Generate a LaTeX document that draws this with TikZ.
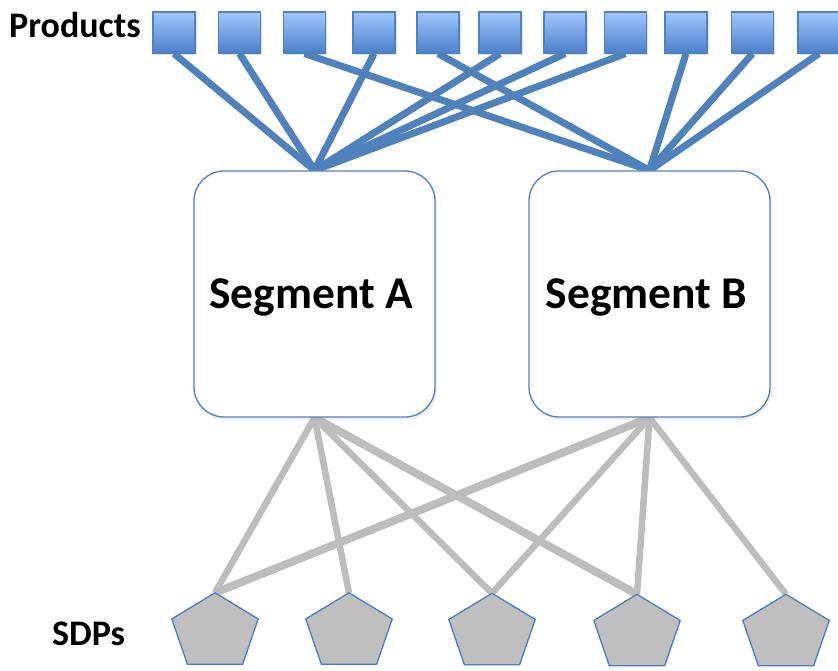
\documentclass[tikz,border=0pt]{standalone}
\usepackage{fontspec}
\setmainfont{Carlito}
\usetikzlibrary{calc,shadows}
\definecolor{linkblue}{HTML}{4F81BD}
\definecolor{sqtop}{HTML}{A3C7FF}
\definecolor{sqbot}{HTML}{4A7FCB}
\definecolor{linkgray}{HTML}{BDBDBD}
\definecolor{pentfill}{HTML}{BFBFBF}
\definecolor{pentedge}{HTML}{4A7EC4}
\pgfdeclarelayer{back}
\pgfsetlayers{back,main}
\tikzset{
  prod/.style={minimum width=42pt, minimum height=41pt, inner sep=0pt,
    draw=linkblue, line width=1.2pt, top color=sqtop, bottom color=sqbot,
    drop shadow={opacity=0.25, shadow xshift=1.5pt, shadow yshift=-2pt}},
  seg/.style={minimum width=241pt, minimum height=246pt, inner sep=0pt,
    rounded corners=30pt, draw=linkblue, line width=1.3pt, fill=white,
    drop shadow={opacity=0.12, shadow xshift=2pt, shadow yshift=-3pt}},
  seglabel/.style={anchor=base, inner sep=0pt, font=\bfseries\fontsize{45.5}{50}\selectfont},
  caption/.style={anchor=base west, inner sep=0pt, font=\bfseries\fontsize{36}{40}\selectfont},
  pentbox/.style={minimum width=86pt, minimum height=71pt, inner sep=0pt},
  pentshape/.style={fill=pentfill, draw=pentedge, line width=1.3pt, line join=miter},
  bluelink/.style={draw=linkblue, line width=7pt},
  graylink/.style={draw=linkgray, line width=6.5pt},
  graythick/.style={draw=linkgray, line width=8pt}
}
\begin{document}
\begin{tikzpicture}[x=1pt,y=-1pt]
\useasboundingbox (0,0) rectangle (838,671);

% captions
\node[caption] (lblprod) at (9,38) {Products};
\node[caption] (lblsdp) at (52,645) {SDPs};

% product squares
\node[prod] (s1) at (174,32.5) {};
\node[prod] (s2) at (239.5,32.5) {};
\node[prod] (s3) at (304.5,32.5) {};
\node[prod] (s4) at (374,32.5) {};
\node[prod] (s5) at (438,32.5) {};
\node[prod] (s6) at (500,32.5) {};
\node[prod] (s7) at (565,32.5) {};
\node[prod] (s8) at (625.5,32.5) {};
\node[prod] (s9) at (686,32.5) {};
\node[prod] (s10) at (752.5,32.5) {};
\node[prod] (s11) at (819,32.5) {};

% segment boxes
\node[seg] (A) at (314.5,294) {};
\node[seg] (B) at (649.5,294) {};
\node[seglabel] (ta) at (311,308) {Segment A};
\node[seglabel] (tb) at (646.5,308) {Segment B};

% SDP pentagons (frames)
\node[pentbox] (p1) at (215,628.5) {};
\node[pentbox] (p2) at (349,628.5) {};
\node[pentbox] (p3) at (492,629) {};
\node[pentbox] (p4) at (637,630) {};
\node[pentbox] (p5) at (786,630) {};
\foreach \i in {1,...,5} {
  \fill[black, opacity=0.18, shift={(2,3)}]
    (p\i.north) -- ($(p\i.north west)!0.366!(p\i.south west)$)
    -- ($(p\i.south west)!0.18!(p\i.south east)$)
    -- ($(p\i.south east)!0.18!(p\i.south west)$)
    -- ($(p\i.north east)!0.366!(p\i.south east)$) -- cycle;
  \path[pentshape]
    (p\i.north) -- ($(p\i.north west)!0.366!(p\i.south west)$)
    -- ($(p\i.south west)!0.18!(p\i.south east)$)
    -- ($(p\i.south east)!0.18!(p\i.south west)$)
    -- ($(p\i.north east)!0.366!(p\i.south east)$) -- cycle;
}

% connectors
\begin{pgfonlayer}{back}
  \foreach \s in {1,2,4,6,7,8} \draw[bluelink] (s\s.south) -- (A.north);
  \foreach \s in {3,5,9,10,11} \draw[bluelink] (s\s.south) -- (B.north);
  \draw[graylink] (A.south) -- (p1.north);
  \draw[graylink] (A.south) -- (p2.north);
  \draw[graylink] (A.south) -- (p3.north);
  \draw[graythick] (A.south) -- (p4.north);
  \draw[graythick] (B.south) -- (p1.north);
  \draw[graylink] (B.south) -- (p3.north);
  \draw[graylink] (B.south) -- (p4.north);
  \draw[graylink] (B.south) -- (p5.north);
\end{pgfonlayer}
\end{tikzpicture}
\end{document}
